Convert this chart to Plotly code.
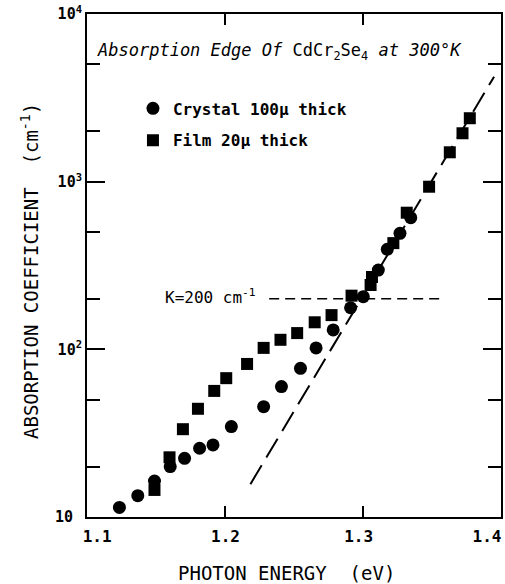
import plotly.graph_objects as go

# Crystal 100u thick (circles)
crystal_e = [1.1235, 1.1368, 1.1489, 1.1603, 1.1707, 1.1816, 1.1913, 1.2046, 1.228,
             1.2409, 1.2547, 1.266, 1.2784, 1.291, 1.3002, 1.3111, 1.3176, 1.3268, 1.3346]
crystal_k = [11.4, 13.4, 16.4, 20.0, 22.4, 25.7, 26.9, 34.6, 45.5,
             60, 77, 102, 130.5, 177, 206, 297, 395, 492, 610]

# Film 20u thick (squares)
film_e = [1.1489, 1.1598, 1.1695, 1.1804, 1.1922, 1.2009, 1.216, 1.228, 1.2402, 1.2523,
          1.265, 1.2772, 1.2917, 1.3055, 1.3065, 1.322, 1.3317, 1.3479, 1.3629, 1.3721, 1.3774]
film_k = [14.5, 22.7, 33.4, 44.2, 56.5, 67.3, 81.8, 102, 114, 125,
          145, 160, 209, 242, 270, 430, 653, 933, 1497, 1944, 2390]

# Dashed exponential-edge line and K=200 level
edge_e = [1.2184, 1.395]
edge_k = [15.7, 4230]
level_e = [1.232, 1.358]
level_k = [200, 200]

NB = "\u00a0"
x_ticks = [1.1, 1.2, 1.3, 1.4]
x_ticktext = [NB * 5 + "1.1", NB * 3 + "1.2", NB * 2 + "1.3", "1.4"]
y_ticks = [10, 100, 1000, 10000]
y_ticktext = ["10" + NB, "10<sup>2</sup>", "10<sup>3</sup>", "10<sup>4</sup>"]
y_minor = [20, 50, 200, 500, 2000, 5000]

MONO = "DejaVu Sans Mono"

fig = go.Figure()
fig.add_trace(go.Scatter(x=edge_e, y=edge_k, mode="lines", showlegend=False,
                         line=dict(color="black", width=2, dash="22px,9px")))
fig.add_trace(go.Scatter(x=level_e, y=level_k, mode="lines", showlegend=False,
                         line=dict(color="black", width=1.5, dash="10px,6px")))
fig.add_trace(go.Scatter(x=crystal_e, y=crystal_k, mode="markers", name="Crystal 100µ thick",
                         legendgroup="c",
                         marker=dict(symbol="circle", size=13, color="black")))
fig.add_trace(go.Scatter(x=film_e, y=film_k, mode="markers", name="Film 20µ thick",
                         legendgroup="f",
                         marker=dict(symbol="square", size=12, color="black")))

axis_common = dict(showline=True, linecolor="black", linewidth=2, mirror="allticks",
                   ticks="inside", tickcolor="black", tickwidth=2, showgrid=False,
                   zeroline=False, ticklabeloverflow="allow", automargin=False)

fig.update_xaxes(range=[1.1, 1.4], tickmode="array", tickvals=x_ticks, ticktext=x_ticktext,
                 ticklen=11, ticklabelstandoff=4, ticklabelshift=-14,
                 tickfont=dict(family=MONO, size=16, color="black", weight="bold"),
                 **axis_common)
fig.update_yaxes(type="log", range=[1, 4], tickmode="array", tickvals=y_ticks,
                 ticktext=y_ticktext, ticklen=18,
                 tickfont=dict(family=MONO, size=15, color="black", weight="bold"),
                 minor=dict(tickmode="array", tickvals=y_minor, ticklen=13, tickwidth=2,
                            tickcolor="black", ticks="inside", showgrid=False),
                 **axis_common)

fig.update_layout(
    width=505, height=584,
    margin=dict(l=87, r=4, t=14, b=67),
    plot_bgcolor="white", paper_bgcolor="white",
    showlegend=True,
    legend=dict(x=0.111, y=0.846, xanchor="left", yanchor="top",
                font=dict(family=MONO, size=16, color="black", weight="bold"),
                bgcolor="rgba(0,0,0,0)", tracegroupgap=8, itemsizing="trace"),
    annotations=[
        dict(text="<i>Absorption Edge Of</i> CdCr<sub>2</sub>Se<sub>4</sub> <i>at 300°K</i>",
             xref="paper", yref="paper", x=(279 - 87) / 414, y=(517 - 52) / 503,
             xanchor="center", yanchor="middle", showarrow=False,
             font=dict(family=MONO, size=17, color="black")),
        dict(text="K=200 cm<sup>-1</sup>", xref="paper", yref="paper",
             x=(163 - 87) / 414, y=(517 - 296) / 503, xanchor="left", yanchor="middle",
             showarrow=False, font=dict(family=MONO, size=16, color="black")),
        dict(text="PHOTON ENERGY  (eV)", xref="paper", yref="paper",
             x=(286 - 87) / 414, y=(517 - 573) / 503, xanchor="center", yanchor="middle",
             showarrow=False, font=dict(family=MONO, size=19, color="black")),
        dict(text="ABSORPTION COEFFICIENT  (cm<sup>-1</sup>)", xref="paper", yref="paper",
             x=(30 - 87) / 414, y=(517 - 271) / 503, xanchor="center", yanchor="middle",
             textangle=-90, showarrow=False,
             font=dict(family=MONO, size=19, color="black")),
    ],
)

fig.write_html("out.html")
